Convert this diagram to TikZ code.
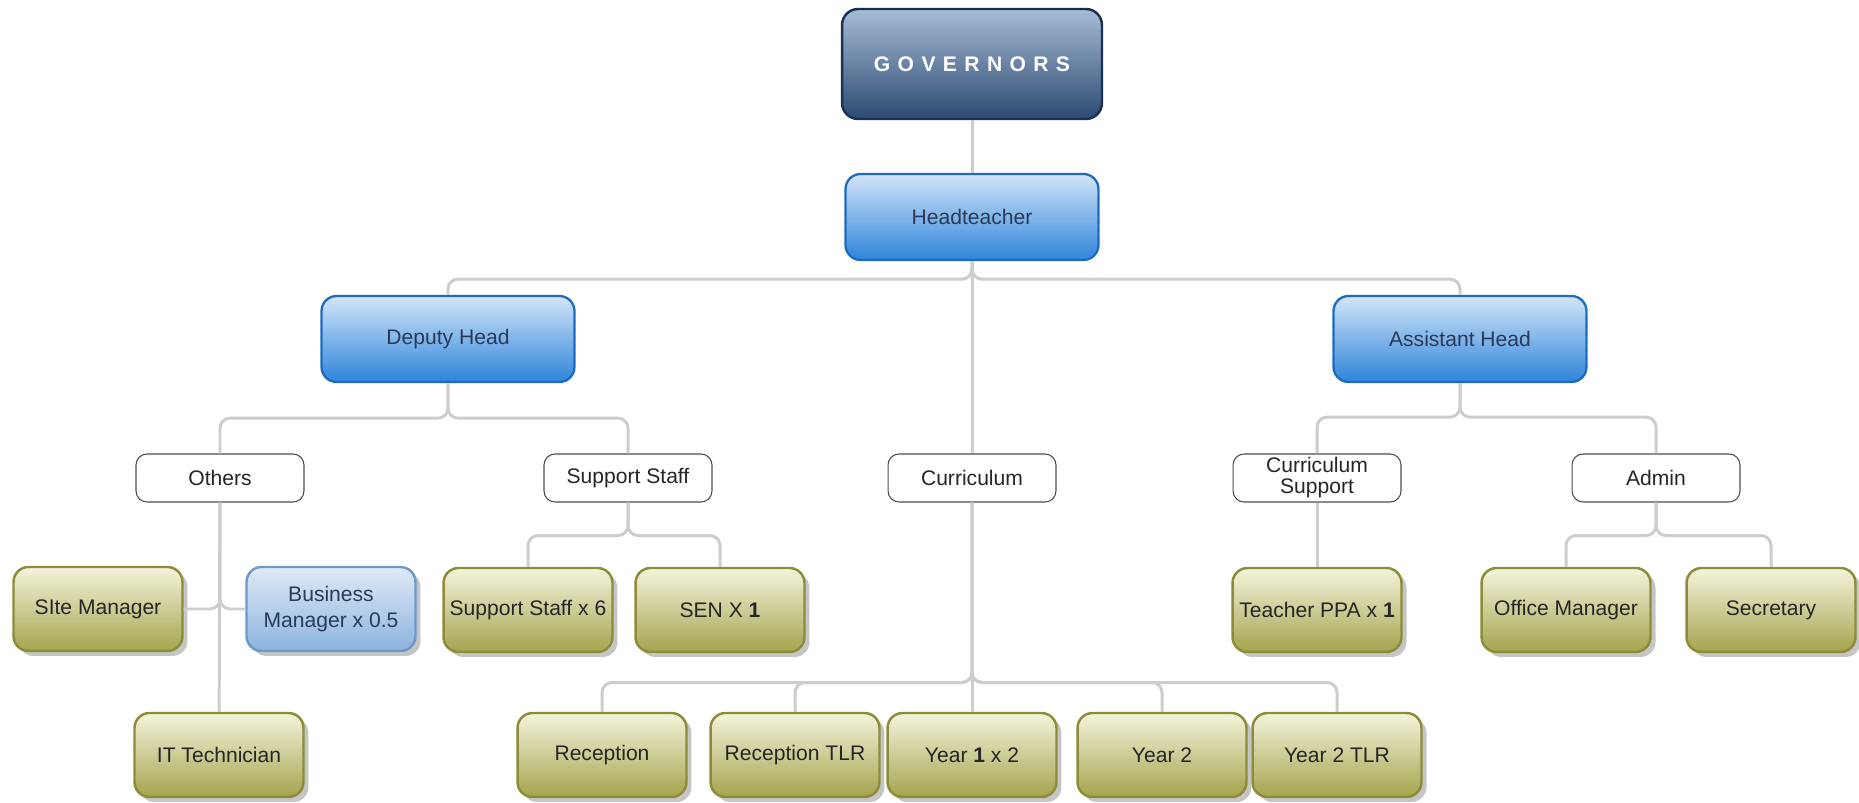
\documentclass[tikz,border=0pt]{standalone}
\usepackage{fontspec}
\setmainfont{Liberation Sans}
\newfontfamily\govfont[LetterSpace=35]{Liberation Sans}
\usetikzlibrary{shadows}

\definecolor{govtop}{HTML}{A7BCD6}
\definecolor{govbot}{HTML}{2B4A72}
\definecolor{govline}{HTML}{1B3152}
\definecolor{headtop}{HTML}{D2E5F8}
\definecolor{headbot}{HTML}{2E84DA}
\definecolor{headline}{HTML}{1C6BC0}
\definecolor{headtext}{HTML}{2A3A58}
\definecolor{olivetop}{HTML}{F4F4DC}
\definecolor{olivebot}{HTML}{A4A44E}
\definecolor{oliveline}{HTML}{8C8C3A}
\definecolor{biztop}{HTML}{DFEAF7}
\definecolor{bizbot}{HTML}{8CB3DE}
\definecolor{bizline}{HTML}{6E98C8}
\definecolor{linkgray}{HTML}{CDCDCD}

\tikzset{
  govbox/.style={rounded corners=0.32cm, draw=govline, line width=1.4pt,
    top color=govtop, bottom color=govbot, text=white,
    minimum width=5.2cm, minimum height=2.2cm,
    font=\govfont\fontsize{12}{14}\selectfont\bfseries},
  headbox/.style={rounded corners=0.3cm, draw=headline, line width=1.3pt,
    top color=headtop, bottom color=headbot, text=headtext,
    minimum width=5.06cm, minimum height=1.72cm,
    font=\fontsize{12}{14}\selectfont},
  groupbox/.style={rounded corners=0.22cm, draw=black!70, line width=0.6pt,
    fill=white, text=black!85, align=center, inner sep=0pt,
    minimum width=3.36cm, minimum height=0.96cm,
    font=\fontsize{12}{12}\selectfont},
  staffbox/.style={rounded corners=0.3cm, draw=oliveline, line width=1.4pt,
    top color=olivetop, bottom color=olivebot, text=black!85, align=center,
    drop shadow={shadow xshift=0.1cm, shadow yshift=-0.1cm, fill=black!45},
    minimum width=3.38cm, minimum height=1.68cm,
    font=\fontsize{12}{14.5}\selectfont},
  bizbox/.style={staffbox, drop shadow={opacity=0}, draw=bizline,
    top color=biztop, bottom color=bizbot, text=headtext},
  link/.style={draw=linkgray, line width=1.7pt, rounded corners=0.2cm},
}

\begin{document}
\begin{tikzpicture}[x=0.02cm, y=-0.02cm]
    \useasboundingbox (0,0) rectangle (1859,803);

    % Place the governors and the heads
    \node[govbox] (gov) at (972,64) {GOVERNORS};
    \node[headbox] (head) at (972,217) {Headteacher};
    \node[headbox] (deputy) at (448,339) {Deputy Head};
    \node[headbox] (assist) at (1460,339) {Assistant Head};

    % Place the groups with white rounded borders
    \node[groupbox] (others) at (220,478) {Others};
    \node[groupbox] (support) at (628,478) {Support Staff};
    \node[groupbox] (curric) at (972,478) {Curriculum};
    \node[groupbox] (cursup) at (1317,478) {Curriculum\\Support};
    \node[groupbox] (admin) at (1656,478) {Admin};

    % Place the staff
    \node[staffbox] (site) at (98,609) {SIte Manager};
    \node[bizbox] (bizman) at (331,609) {Business\\Manager x 0.5};
    \node[staffbox] (ittech) at (219,755) {IT Technician};
    \node[staffbox] (sstaff) at (528,610) {Support Staff x 6};
    \node[staffbox] (sen) at (720,610) {SEN X \textbf{1}};
    \node[staffbox] (ppa) at (1317,610) {Teacher PPA x \textbf{1}};
    \node[staffbox] (office) at (1566,610) {Office Manager};
    \node[staffbox] (secr) at (1771,610) {Secretary};

    % Place the year groups
    \node[staffbox] (recep) at (602,755) {Reception};
    \node[staffbox] (receptlr) at (795,755) {Reception TLR};
    \node[staffbox] (yrone) at (972,755) {Year \textbf{1} x 2};
    \node[staffbox] (yrtwo) at (1162,755) {Year 2};
    \node[staffbox] (yrtwotlr) at (1337,755) {Year 2 TLR};

    % Draw the connectors
    \draw[link] (gov) -- (head);
    \draw[link] (head) -- (curric);
    \draw[link] (curric) -- (yrone);
    \foreach \n in {deputy, assist}
        \draw[link] (head.south) -- ++(0,18) -| (\n.north);
    \foreach \n in {others, support}
        \draw[link] (deputy.south) -- ++(0,35) -| (\n.north);
    \foreach \n in {cursup, admin}
        \draw[link] (assist.south) -- ++(0,34) -| (\n.north);
    \foreach \n in {sstaff, sen}
        \draw[link] (support.south) -- ++(0,33) -| (\n.north);
    \foreach \n in {office, secr}
        \draw[link] (admin.south) -- ++(0,33) -| (\n.north);
    \foreach \n in {recep, receptlr, yrtwo, yrtwotlr}
        \draw[link] (curric.south) -- ++(0,180) -| (\n.north);
    \draw[link] (cursup) -- (ppa);
    \draw[link] (others) -- (ittech);
    \draw[link] (others.south) |- (site.east);
    \draw[link] (others.south) |- (bizman.west);
\end{tikzpicture}
\end{document}
